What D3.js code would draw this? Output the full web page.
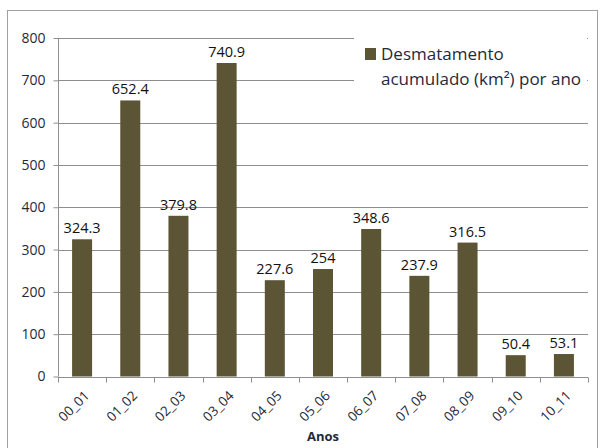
<!DOCTYPE html>
<html><head><meta charset="utf-8">
<script src="https://cdn.jsdelivr.net/npm/d3@7"></script>
<style>body{margin:0;background:#fff}svg{display:block}text{font-family:"Open Sans","Liberation Sans",sans-serif}</style>
</head><body><svg id="c" width="600" height="448"></svg>
<script>
const categories = ["00_01","01_02","02_03","03_04","04_05","05_06","06_07","07_08","08_09","09_10","10_11"];
const values = [324.3,652.4,379.8,740.9,227.6,254,348.6,237.9,316.5,50.4,53.1];
const labels = ["324.3","652.4","379.8","740.9","227.6","254","348.6","237.9","316.5","50.4","53.1"];
const yTicks = [0,100,200,300,400,500,600,700,800];
const seriesName = ["Desmatamento", "acumulado (km²) por ano"];
const xTitle = "Anos";

const svg = d3.select("#c");
const L=58,R=588,T=38,B=376.5;
const barColor="#5b5535", grid="#8e8e8e", txt="#1f2a3a";
svg.append("rect").attr("x",7.5).attr("y",10.5).attr("width",590).attr("height",460).attr("fill","#fff").attr("stroke","#a0a0a0");

const xb=d3.scaleBand().domain(categories).range([L,R]);
const y=d3.scaleLinear().domain([0,800]).range([B,T]);

svg.append("g").selectAll("line").data(yTicks.filter(d=>d>0)).join("line")
 .attr("x1",L).attr("x2",R).attr("y1",d=>Math.round(y(d))+0.5).attr("y2",d=>Math.round(y(d))+0.5).attr("stroke",grid);

svg.append("g").selectAll("rect").data(categories).join("rect")
 .attr("x",(d)=>xb(d)+xb.bandwidth()/2-10).attr("width",20)
 .attr("y",(d,i)=>y(values[i])).attr("height",(d,i)=>B-y(values[i])).attr("fill",barColor);

svg.append("g").selectAll("text").data(categories).join("text")
 .attr("x",d=>xb(d)+xb.bandwidth()/2).attr("y",(d,i)=>y(values[i])-6)
 .attr("text-anchor","middle").attr("font-size",14.5).attr("fill","#111").text((d,i)=>labels[i]);

// y axis
const ya=svg.append("g").attr("transform",`translate(${L+0.5},0)`).call(d3.axisLeft(y).tickValues(yTicks).tickSize(5).tickPadding(8));
ya.select(".domain").attr("stroke",grid).attr("d",`M0,${T}V${B}`);
ya.selectAll(".tick line").attr("stroke",grid);
ya.selectAll("text").attr("font-size",14).attr("fill",txt).attr("font-family","'Open Sans',sans-serif");

// x axis
const xa=svg.append("g").attr("transform",`translate(0,${Math.round(B)+0.5})`);
xa.append("line").attr("x1",L).attr("x2",R).attr("stroke",grid);
const bounds=categories.map(d=>xb(d)).concat([R]);
xa.selectAll("line.t").data(bounds).join("line").attr("class","t").attr("x1",d=>Math.round(d)+0.5).attr("x2",d=>Math.round(d)+0.5).attr("y1",0).attr("y2",5).attr("stroke",grid);
xa.selectAll("text").data(categories).join("text")
 .attr("transform",d=>`translate(${xb(d)+xb.bandwidth()/2+8},19) rotate(-45)`)
 .attr("text-anchor","end").attr("font-size",13.5).attr("fill",txt).text(d=>d);

svg.append("text").attr("x",(L+R)/2).attr("y",441).attr("text-anchor","middle").attr("font-size",13).attr("font-weight","bold").attr("fill",txt).text(xTitle);

// legend
const lg=svg.append("g");
lg.append("rect").attr("x",354).attr("y",32).attr("width",233).attr("height",72).attr("fill","#fff");
lg.append("rect").attr("x",365).attr("y",48).attr("width",11).attr("height",12).attr("fill",barColor);
lg.selectAll("text").data(seriesName).join("text").attr("x",381).attr("y",(d,i)=>60+i*25)
 .attr("font-size",17).attr("fill",txt).text(d=>d);
</script></body></html>
